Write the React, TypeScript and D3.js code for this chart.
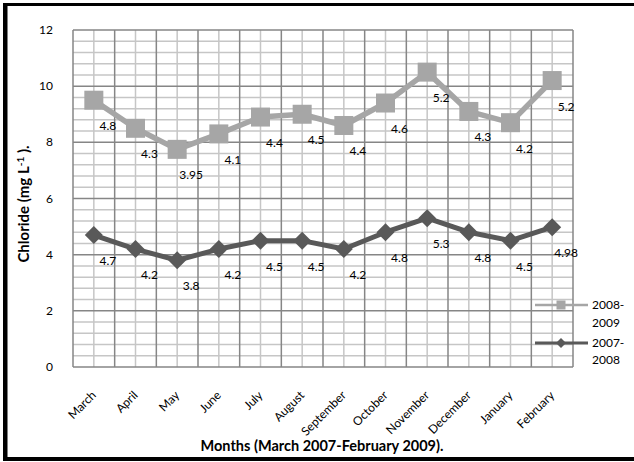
import React from "react";
import * as d3 from "d3";

const months = ["March", "April", "May", "June", "July", "August", "September", "October", "November", "December", "January", "February"];
const values0809 = [9.5, 8.5, 7.75, 8.3, 8.9, 9.0, 8.6, 9.4, 10.5, 9.1, 8.7, 10.2];
const labels0809 = ["4.8", "4.3", "3.95", "4.1", "4.4", "4.5", "4.4", "4.6", "5.2", "4.3", "4.2", "5.2"];
const values0708 = [4.7, 4.2, 3.8, 4.2, 4.5, 4.5, 4.2, 4.8, 5.3, 4.8, 4.5, 4.98];
const labels0708 = ["4.7", "4.2", "3.8", "4.2", "4.5", "4.5", "4.2", "4.8", "5.3", "4.8", "4.5", "4.98"];
const yTicks = [0, 2, 4, 6, 8, 10, 12];

const W = 634, H = 462;
const L = 73, R = 573, T = 30, B = 367;
const FONT = "Lato, 'Open Sans', sans-serif";
const LIGHT = "#A6A6A6";
const DARK = "#595959";
const MAJOR = "#868686";
const MINOR = "#C6C6C6";

export default function App() {
  const x = d3.scaleBand<string>().domain(months).range([L, R]).padding(0);
  const bw = x.bandwidth();
  const cx = (m: string) => (x(m) as number) + bw / 2;
  const y = d3.scaleLinear().domain([0, 12]).range([B, T]);

  const minorH = d3.range(0, 12.001, 0.4).filter((v) => Math.abs(v / 2 - Math.round(v / 2)) > 0.01);
  const edges = months.map((m) => x(m) as number).concat([R]);

  const line = d3.line<number>().x((_, i) => cx(months[i])).y((v) => y(v));

  const sq = 19;
  const dm = 9;
  const dOff = 14, lOff = 30;

  return (
    <svg width={W} height={H} style={{ position: "absolute", left: 0, top: 0, background: "#fff" }} fontFamily={FONT}>
      <rect x={0} y={0} width={W} height={H} fill="#fff" />
      {/* frame */}
      <rect x={3} y={3} width={W - 3} height={3} fill="#000" />
      <rect x={3} y={3} width={4.5} height={H - 5} fill="#000" />
      <rect x={3} y={457} width={W - 3} height={4} fill="#000" />

      {/* minor grid */}
      {minorH.map((v, i) => (
        <line key={"mh" + i} x1={L} x2={R} y1={y(v)} y2={y(v)} stroke={MINOR} strokeWidth={1.5} />
      ))}
      {months.map((m) => (
        <line key={"mv" + m} x1={cx(m)} x2={cx(m)} y1={T} y2={B} stroke={MINOR} strokeWidth={1.5} />
      ))}
      {/* major grid */}
      {yTicks.map((v) => (
        <line key={"Mh" + v} x1={L} x2={R} y1={y(v)} y2={y(v)} stroke={MAJOR} strokeWidth={1.5} />
      ))}
      {edges.map((e, i) => (
        <line key={"Mv" + i} x1={e} x2={e} y1={T} y2={B} stroke={MAJOR} strokeWidth={1.5} />
      ))}

      {/* y ticks */}
      {yTicks.map((v) => (
        <text key={"yt" + v} x={53} y={y(v) + 4} textAnchor="end" fontSize={12} fill="#000">{v}</text>
      ))}

      {/* x ticks */}
      {months.map((m) => (
        <text key={"xt" + m} transform={`translate(${cx(m) + 3},${396}) rotate(-45)`} textAnchor="end" fontSize={12} fill="#000">{m}</text>
      ))}

      {/* series 2008-2009 */}
      <path d={line(values0809) || ""} fill="none" stroke={LIGHT} strokeWidth={5.5} strokeLinejoin="round" />
      {values0809.map((v, i) => (
        <rect key={"s" + i} x={cx(months[i]) - sq / 2} y={y(v) - sq / 2} width={sq} height={sq} fill={LIGHT} />
      ))}
      {/* series 2007-2008 */}
      <path d={line(values0708) || ""} fill="none" stroke={DARK} strokeWidth={5} strokeLinejoin="round" />
      {values0708.map((v, i) => {
        const px = cx(months[i]), py = y(v);
        return <path key={"d" + i} d={`M${px},${py - dm}L${px + dm},${py}L${px},${py + dm}L${px - dm},${py}Z`} fill={DARK} />;
      })}

      {/* data labels */}
      {labels0809.map((t, i) => (
        <text key={"l1" + i} x={cx(months[i]) + dOff} y={y(values0809[i]) + lOff} textAnchor="middle" fontSize={12} fill="#000">{t}</text>
      ))}
      {labels0708.map((t, i) => (
        <text key={"l2" + i} x={cx(months[i]) + dOff} y={y(values0708[i]) + lOff} textAnchor="middle" fontSize={12} fill="#000">{t}</text>
      ))}

      {/* legend */}
      <line x1={535} x2={588} y1={305} y2={305} stroke={LIGHT} strokeWidth={2.5} />
      <rect x={561 - 4.5} y={305 - 4.5} width={9} height={9} fill={LIGHT} />
      <text x={592} y={309} fontSize={12} fill="#000">2008-</text>
      <text x={592} y={327} fontSize={12} fill="#000">2009</text>
      <line x1={535} x2={588} y1={343} y2={343} stroke={DARK} strokeWidth={3} />
      <path d={`M561,${343 - 5}L566,343L561,${343 + 5}L556,343Z`} fill={DARK} />
      <text x={592} y={347} fontSize={12} fill="#000">2007-</text>
      <text x={592} y={364} fontSize={12} fill="#000">2008</text>

      {/* axis titles */}
      <text transform={`translate(29,204) rotate(-90)`} textAnchor="middle" fontSize={15} fontWeight="bold" fill="#000">
        Chloride (mg L<tspan dy={-5} fontSize={10}>-1</tspan><tspan dy={5}> ).</tspan>
      </text>
      <text x={322} y={451} textAnchor="middle" fontSize={14.5} fontWeight="bold" fill="#000">Months (March 2007-February 2009).</text>
    </svg>
  );
}
